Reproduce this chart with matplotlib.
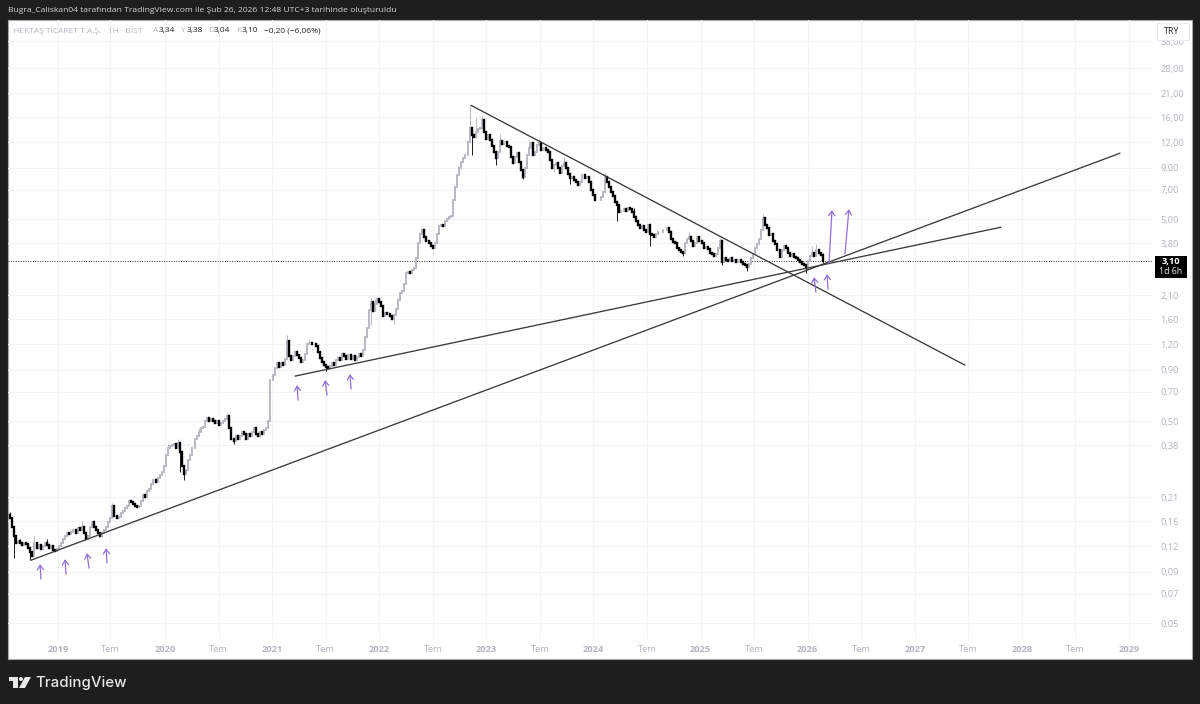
import matplotlib

matplotlib.use("Agg")

import matplotlib.pyplot as plt
from matplotlib.patches import Polygon, Rectangle, Circle
import numpy as np

FIRST_WEEK = 2018.55
WEEK = 7 / 365.25

closes_2018 = [.165, .15, .135, .125, .128, .124, .122, .125, .123, .118, .112, .108, .125, .118, .122, .117, .12,
               .125, .122, .118, .12, .115, .114]
closes_2019 = [.117, .12, .125, .13, .135, .14, .138, .142, .145, .14, .148, .145, .15, .14, .13, .135, .15, .158,
               .15, .145, .14, .135, .14, .145, .15, .158, .165, .19, .17, .165, .168, .175, .18, .185, .19, .2,
               .198, .195, .19, .188, .19, .2, .215, .21, .225, .23, .245, .255, .25, .26, .27, .28]
closes_2020 = [.3, .34, .37, .375, .38, .385, .37, .39, .35, .3, .275, .285, .32, .34, .37, .41, .42, .44, .46, .47,
               .5, .52, .5, .51, .5, .49, .5, .48, .49, .5, .51, .53, .46, .41, .4, .42, .41, .42, .44, .43, .41,
               .43, .42, .44, .46, .43, .42, .44, .43, .45, .46, .5]
closes_2021 = [.8, .85, .92, .97, .93, .97, .95, 1.02, 1.25, 1.05, 1.0, 1.05, 1.1, 1.06, 1.03, .98, 1.0, 1.08, 1.2,
               1.22, 1.2, 1.21, 1.18, 1.1, 1.03, .98, .95, .93, .92, .94, .97, .95, 1.0, 1.03, 1.0, 1.08, 1.05,
               1.02, 1.06, 1.02, 1.05, 1.0, 1.04, 1.08, 1.05, 1.12, 1.3, 1.45, 1.78, 1.95, 1.75, 1.9]
closes_2022 = [2.0, 1.95, 1.85, 1.65, 1.72, 1.7, 1.65, 1.6, 1.68, 1.8, 1.98, 2.15, 2.2, 2.4, 2.7, 2.75, 2.7, 2.8,
               2.85, 3.2, 3.8, 4.2, 4.4, 4.1, 3.9, 3.8, 3.7, 3.6, 3.8, 4.2, 4.6, 4.7, 4.6, 4.9, 5.0, 5.1, 5.2, 6.2,
               7.2, 8.3, 9.0, 9.6, 10.0, 10.4, 12.0, 14.2, 13.0, 12.8, 13.5, 14.0, 14.2, 15.5]
closes_2023 = [13.5, 12.4, 13.0, 12.3, 11.5, 10.8, 10.0, 10.8, 12.2, 11.8, 12.0, 11.5, 11.4, 10.2, 9.5, 10.2, 10.6,
               9.6, 8.8, 8.1, 9.0, 10.4, 11.2, 11.9, 10.4, 10.8, 11.6, 11.9, 11.0, 11.2, 11.0, 10.8, 9.8, 9.0, 9.3,
               9.5, 9.0, 8.5, 9.2, 9.5, 9.0, 8.4, 8.0, 8.1, 7.8, 7.6, 7.4, 7.6, 8.3, 8.0, 8.1, 7.6]
closes_2024 = [7.0, 6.6, 6.2, 6.25, 6.2, 6.4, 6.8, 8.1, 7.6, 7.2, 6.8, 6.5, 6.1, 5.9, 5.4, 5.5, 5.6, 5.5, 5.7, 5.6,
               5.4, 5.1, 4.9, 4.7, 4.5, 4.6, 4.4, 4.3, 4.7, 4.2, 4.15, 4.1, 4.2, 4.3, 4.3, 4.4, 4.4, 4.5, 4.3, 4.0,
               3.85, 3.8, 3.6, 3.5, 3.45, 3.4, 3.8, 4.0, 4.1, 3.9, 3.7, 3.8]
closes_2025 = [4.1, 3.9, 3.8, 3.6, 3.65, 3.55, 3.4, 3.35, 3.3, 3.35, 3.6, 3.9, 3.06, 3.2, 3.15, 3.1, 3.2, 3.1, 3.15,
               3.05, 3.15, 3.05, 3.0, 2.95, 2.9, 3.0, 3.2, 3.35, 3.6, 3.75, 4.0, 4.4, 5.05, 4.7, 4.5, 4.15, 4.2, 3.9,
               3.75, 3.5, 3.25, 3.5, 3.7, 3.6, 3.4, 3.3, 3.35, 3.25, 3.2, 3.15, 3.05, 3.0]
closes_2026 = [2.95, 2.85, 3.1, 3.3, 3.4, 3.3, 3.5, 3.4, 3.34, 3.10]

# sparse wicks, week index -> price
wick_highs = {0: .178, 5: .13, 12: .135, 18: .13, 35: .16, 50: .196, 77: .385, 82: .41, 92: .46, 106: .55, 135: 1.33,
              146: 1.27, 176: 2.04, 178: 2.0, 201: 4.5, 224: 18.3, 227: 15.8, 230: 16.3, 239: 13.2, 253: 12.3,
              258: 12.4, 270: 10.2, 290: 8.5, 304: 5.7, 331: 4.3, 346: 4.05, 367: 5.3, 393: 3.75, 391: 3.7}
wick_lows = {2: .105, 10: .103, 85: .255, 83: .28, 109: .385, 127: .7, 154: .89, 176: 1.5, 187: 1.52, 225: 10.4,
             237: 9.3, 250: 7.9, 265: 8.6, 273: 7.5, 312: 3.7, 296: 4.9, 328: 3.3, 347: 2.95, 359: 2.78, 388: 2.72,
             396: 3.04}

# trend lines, (year, price)
trend_lines = [
    ([2018.748, 2028.916], [.1024, 10.6]),
    ([2021.213, 2027.805], [.835, 4.56]),
    ([2022.856, 2027.469], [18.3, .946]),
]

# purple arrows: tail year, tail price, tip year, tip price
arrow_tail_x = [2018.841, 2019.075, 2019.289, 2019.458, 2021.241, 2021.512, 2021.736, 2026.077, 2026.19, 2026.199, 2026.348]
arrow_tail_y = [.0825, .0873, .0935, .099, .635, .672, .72, 2.175, 2.25, 3.03, 3.355]
arrow_tip_x = [2018.832, 2019.065, 2019.271, 2019.448, 2021.232, 2021.493, 2021.726, 2026.059, 2026.18, 2026.227, 2026.385]
arrow_tip_y = [.0978, .1035, .1109, .1174, .753, .797, .854, 2.58, 2.67, 5.54, 5.6]

price_ticks = [38, 28, 21, 16, 12, 9, 7, 5, 3.8, 2.1, 1.6, 1.2, .9, .7, .5, .38, .21, .16, .12, .09, .07, .05]
year_ticks = [2019, 2020, 2021, 2022, 2023, 2024, 2025, 2026, 2027, 2028, 2029]
mid_ticks = [2019.49, 2020.5, 2021.5, 2022.5, 2023.5, 2024.5, 2025.5, 2026.5, 2027.5, 2028.5]

LAST_PRICE = 3.10
DARK = "#1e1e1e"
LABEL = "#b2b5be"
GRID = "#f1f2f5"
UP = "#b8bac2"
PURPLE = "#8f6fd6"
FONT = "Open Sans"


def main():
    closes = np.array(closes_2018 + closes_2019 + closes_2020 + closes_2021 + closes_2022
                      + closes_2023 + closes_2024 + closes_2025 + closes_2026)
    opens = np.r_[closes[0] * 1.04, closes[:-1]]
    highs = np.maximum(opens, closes)
    lows = np.minimum(opens, closes)
    for i, price in wick_highs.items():
        highs[i] = price
    for i, price in wick_lows.items():
        lows[i] = price
    # last candle is given in the header
    opens[-1], highs[-1] = 3.34, 3.38
    weeks = FIRST_WEEK + WEEK * np.arange(len(closes))
    up = closes >= opens

    fig = plt.figure(figsize=(12, 7.04), dpi=100, facecolor=DARK)

    chrome = fig.add_axes([0, 0, 1, 1], zorder=0)
    chrome.set_xlim(0, 1200)
    chrome.set_ylim(704, 0)
    chrome.axis("off")
    chrome.add_patch(Rectangle((8, 20), 1184, 639, facecolor="white", edgecolor="#a8a8a8", linewidth=0.8))
    chrome.text(8, 10.5, "Bugra_Caliskan04 tarafından TradingView.com ile Şub 26, 2026 12:48 UTC+3 tarihinde oluşturuldu",
                color="#d6d6d6", fontsize=6.1, family=FONT, va="center")
    # logo
    chrome.add_patch(Polygon([(9, 677), (18, 677), (18, 688), (13, 688), (13, 681), (9, 681)], facecolor="#e8e8e8"))
    chrome.add_patch(Circle((21, 679), 2, facecolor="#e8e8e8"))
    chrome.add_patch(Polygon([(25, 677), (31, 677), (25, 688), (19, 688)], facecolor="#e8e8e8"))
    chrome.text(35, 682.5, "TradingView", color="#e8e8e8", fontsize=10.8, family="Inter", weight="medium", va="center")

    ax = fig.add_axes([8 / 1200, 1 - 639 / 704, 1144 / 1200, 619 / 704], zorder=1)
    ax.set_yscale("log")
    ax.set_xlim(2018.533, 2029.215)
    ax.set_ylim(.0417, 48.4)
    ax.patch.set_alpha(0)
    for spine in ax.spines.values():
        spine.set_visible(False)

    ax.yaxis.tick_right()
    ax.set_yticks(price_ticks, [f"{p:.2f}".replace(".", ",") for p in price_ticks])
    ax.minorticks_off()
    ax.set_xticks(year_ticks + mid_ticks, [str(y) for y in year_ticks] + ["Tem"] * len(mid_ticks))
    ax.tick_params(axis="both", length=0, labelcolor=LABEL, labelsize=6.7, labelfontfamily=FONT)
    ax.tick_params(axis="y", pad=6)
    ax.tick_params(axis="x", pad=4)
    for label in ax.get_xticklabels()[:len(year_ticks)]:
        label.set_fontweight("bold")
    ax.grid(True, color=GRID, linewidth=0.8)
    ax.set_axisbelow(True)

    ax.axhline(LAST_PRICE, color="#333333", linewidth=0.7, linestyle=(0, (1, 1.5)), zorder=2)

    ax.vlines(weeks[up], lows[up], highs[up], color=UP, linewidth=0.7, zorder=3)
    ax.vlines(weeks[up], opens[up], closes[up], color=UP, linewidth=1.4, zorder=3, capstyle="projecting")
    ax.vlines(weeks[~up], lows[~up], highs[~up], color="#1a1a1a", linewidth=0.7, zorder=4)
    ax.vlines(weeks[~up], closes[~up], opens[~up], color="black", linewidth=1.7, zorder=4, capstyle="projecting")

    for xs, ys in trend_lines:
        ax.plot(xs, ys, color="#3a3a3a", linewidth=0.95, zorder=5, solid_capstyle="round")

    for x0, y0, x1, y1 in zip(arrow_tail_x, arrow_tail_y, arrow_tip_x, arrow_tip_y):
        ax.annotate("", xy=(x1, y1), xytext=(x0, y0), zorder=6,
                    arrowprops=dict(arrowstyle="->,head_length=0.32,head_width=0.22", color=PURPLE, lw=0.9,
                                    shrinkA=0, shrinkB=0))

    top = fig.add_axes([0, 0, 1, 1], zorder=2)
    top.set_xlim(0, 1200)
    top.set_ylim(704, 0)
    top.axis("off")
    top.patch.set_alpha(0)

    top.add_patch(Rectangle((1157, 23), 32, 17, facecolor="white", edgecolor="#e8eaef", linewidth=0.7))
    top.text(1172, 32, "TRY", color="#222222", fontsize=6.4, family=FONT, ha="center", va="center")

    top.add_patch(Rectangle((1155, 256), 32, 22, facecolor="black", edgecolor="none"))
    top.text(1171, 261.5, "3,10", color="white", fontsize=6.7, family=FONT, weight="bold", ha="center", va="center")
    top.text(1171, 272, "1d 6h", color="#e8e8e8", fontsize=6.4, family=FONT, ha="center", va="center")

    legend_y = 30.5
    top.text(13, legend_y, "HEKTAŞ TİCARET T.A.Ş. · 1H · BIST", color=LABEL, fontsize=6.0, family=FONT, va="center")
    for x, letter, value in [(153, "A", "3,34"), (181, "Y", "3,38"), (208, "D", "3,04"), (236, "K", "3,10")]:
        top.text(x, legend_y, letter, color=LABEL, fontsize=6.0, family=FONT, va="center")
        top.text(x + 6, legend_y, value, color="#222222", fontsize=6.0, family=FONT, va="center")
    top.text(264, legend_y, "−0,20 (−6,06%)", color="#222222", fontsize=6.0, family=FONT, va="center")

    fig.savefig("out.png", dpi=100, facecolor=DARK)
    plt.close(fig)


if __name__ == "__main__":
    main()
